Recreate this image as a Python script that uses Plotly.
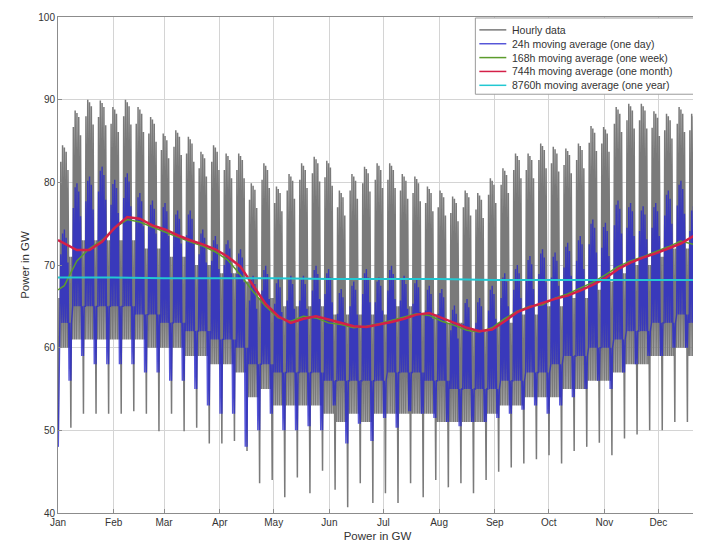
import plotly.graph_objects as go

# ---------------- data (GW) ----------------
months = ["Jan", "Feb", "Mar", "Apr", "May", "Jun", "Jul", "Aug", "Sep", "Oct", "Nov", "Dec"]
month_start_days = [0, 31, 59, 90, 120, 151, 181, 212, 243, 273, 304, 334]

# Jan 1 (holiday, Sunday): hourly low/high and 24h-average low/high
jan1_hourly = [50.0, 66.0]
jan1_daily = [48.0, 56.0]

# weekly readings (52 weeks, each Monday..Sunday, first Monday = Jan 2)
hourly_weekday_peak = [84.5, 88.7, 90.0, 89.9, 89.1, 90.0, 89.1, 87.9, 85.9, 86.3,
                       85.5, 83.7, 84.5, 83.5, 83.5, 79.9, 82.3, 79.5, 81.0, 82.3,
                       83.1, 82.6, 79.0, 81.0, 81.9, 82.3, 82.3, 81.0, 80.7, 79.5,
                       79.0, 78.3, 79.0, 78.7, 80.5, 81.7, 83.5, 83.5, 84.7, 84.3,
                       84.1, 84.7, 86.8, 86.7, 89.1, 89.5, 89.5, 88.6, 88.3, 89.1,
                       88.3, 84.0]
hourly_weekday_trough = [60, 61, 61, 61, 61, 61, 61, 60, 60, 60,
                         59, 59, 58, 58, 57, 54, 55, 53, 53, 53,
                         53, 52, 51, 52, 51, 52, 52, 52, 52, 52,
                         51, 51, 51, 51, 52, 53, 53, 54, 54, 54,
                         55, 55, 56, 56, 57, 58, 58, 59, 59, 60,
                         59, 56]
hourly_weekend_peak = [71, 73, 73, 73, 73, 73, 72, 72, 71, 71,
                       70, 70, 69, 69, 68, 66, 66, 65, 65, 65,
                       65, 64, 64, 64, 64, 64, 65, 65, 64, 64,
                       63, 63, 62, 62, 63, 63, 64, 64, 65, 65,
                       66, 66, 67, 68, 69, 70, 70, 71, 72, 72,
                       71, 68]
hourly_weekend_min = [50.3, 52.0, 52.0, 52.0, 52.0, 52.3, 52.0, 49.9, 52.0, 49.9,
                      50.3, 48.4, 48.4, 48.7, 47.5, 43.6, 44.0, 41.9, 44.3, 42.4,
                      45.1, 42.8, 40.7, 43.6, 41.2, 42.4, 41.2, 43.6, 41.9, 44.0,
                      43.1, 43.6, 42.4, 44.0, 45.0, 45.5, 46.0, 46.5, 47.0, 46.0,
                      47.5, 48.0, 48.5, 47.0, 49.0, 49.5, 50.0, 50.0, 51.0, 51.0,
                      50.0, 46.0]
# typical drop of each weekday's peak below the week's peak (Mon..Fri)
weekday_peak_drop = [2.0, 0.0, 0.3, 0.8, 3.0]

daily_weekday_peak = [74.3, 79.9, 80.7, 81.9, 80.3, 81.1, 78.7, 77.8, 77.5, 76.6,
                      76.6, 74.3, 73.5, 73.0, 71.9, 68.7, 69.9, 68.3, 68.7, 68.7,
                      69.9, 69.5, 67.1, 68.0, 69.5, 68.5, 69.9, 68.7, 68.3, 67.5,
                      67.1, 65.1, 65.9, 66.0, 67.5, 69.0, 70.0, 71.1, 71.9, 71.5,
                      72.7, 73.5, 75.5, 75.1, 77.8, 77.5, 77.1, 77.5, 79.0, 80.2,
                      77.1, 72.0]
daily_weekday_low = [63, 65, 65, 65, 65, 65, 64, 64, 63, 63,
                     62, 62, 61, 61, 60, 58, 58, 57, 57, 57,
                     57, 56, 56, 56, 56, 56, 57, 57, 57, 56,
                     56, 55, 55, 55, 55, 56, 56, 57, 57, 58,
                     59, 59, 60, 60, 61, 62, 62, 63, 63, 64,
                     63, 59]
daily_weekend_min = [56, 59, 58, 58, 58, 58, 57, 57, 56, 56,
                     55, 53, 52, 52, 48, 50, 52, 50, 50, 50.5,
                     50, 53, 48.4, 50.8, 48.7, 51.5, 50.3, 52.3, 52, 51.5,
                     51, 50.5, 51, 51, 51.5, 52, 52.5, 53, 52, 53,
                     54, 55, 56, 55, 57, 58, 59, 59, 60, 60,
                     58, 52]
daily_peak_drop = [3.0, 0.5, 0.0, 1.0, 4.0]

# 168h and 744h averages: Jan 1 value, then one reading per week (mid-week)
weekly_avg = [67.0, 67.5, 70.5, 72.0, 73.0, 74.5, 75.5, 75.2, 74.6, 74.0, 73.4,
              72.8, 72.3, 71.6, 70.6, 68.8, 66.8, 65.0, 63.6, 63.2, 63.8,
              63.6, 63.0, 62.8, 62.4, 62.6, 62.9, 63.3, 63.7, 64.1, 63.9,
              63.2, 62.7, 62.1, 61.9, 62.4, 63.5, 64.4, 65.0, 65.2, 66.0,
              66.5, 67.2, 67.9, 68.8, 69.8, 70.5, 71.0, 71.6, 72.2, 72.9,
              72.5, 71.0]
monthly_avg = [73.0, 72.6, 71.8, 71.8, 72.8, 74.5, 75.8, 75.6, 74.8, 74.3, 73.6,
               73.0, 72.5, 71.9, 71.0, 69.8, 67.5, 65.3, 63.8, 63.0, 63.5,
               63.8, 63.4, 63.0, 62.6, 62.5, 62.8, 63.1, 63.5, 64.0, 64.2,
               63.6, 63.0, 62.4, 62.0, 62.2, 63.2, 64.3, 64.9, 65.4, 65.9,
               66.3, 66.9, 67.6, 68.4, 69.5, 70.3, 70.9, 71.4, 72.0, 72.6,
               73.5, 74.0]
# 8760h average, read at each month start and year end
yearly_avg = [68.5, 68.5, 68.4, 68.4, 68.4, 68.3, 68.3, 68.3, 68.2, 68.2, 68.2, 68.2, 68.2]

legend_names = ["Hourly data", "24h moving average (one day)", "168h moving average (one week)",
                "744h moving average (one month)", "8760h moving average (one year)"]
colors = ["#7a7a7a", "rgba(38,38,205,0.78)", "#5c9c2c", "#d42048", "#22c8d2"]

# ---------------- build series from readings ----------------
def expand(first, wd_lo, wd_hi, we_lo, we_hi, peak_drop, sat_lo_is_weekend):
    xs = [0 + 4 / 24, 0 + 13 / 24]
    ys = [first[0], first[1]]
    for k in range(len(wd_hi)):
        for j in range(7):
            d = 1 + 7 * k + j
            if d >= 365:
                break
            if j < 5:
                lo, hi = wd_lo[k], wd_hi[k] - peak_drop[j]
            elif j == 5:
                lo = we_lo[k] if sat_lo_is_weekend else wd_lo[k]
                hi = we_hi[k]
            else:
                lo, hi = we_lo[k], we_hi[k]
            xs += [d + 4 / 24, d + 13 / 24]
            ys += [lo, hi]
    return xs, ys

hx, hy = expand(jan1_hourly, hourly_weekday_trough, hourly_weekday_peak,
                hourly_weekend_min, hourly_weekend_peak, weekday_peak_drop, False)
dx, dy = expand(jan1_daily, daily_weekday_low, daily_weekday_peak,
                daily_weekend_min, daily_weekday_low, daily_peak_drop, True)
avg_days = [0] + [7 * k + 3.5 for k in range(52)]
year_days = month_start_days + [365]

fig = go.Figure()
fig.add_trace(go.Scatter(x=hx, y=hy, mode="lines", name=legend_names[0],
                         line=dict(color=colors[0], width=1.5)))
fig.add_trace(go.Scatter(x=dx, y=dy, mode="lines", name=legend_names[1],
                         line=dict(color=colors[1], width=1.4)))
fig.add_trace(go.Scatter(x=avg_days, y=weekly_avg, mode="lines", name=legend_names[2],
                         line=dict(color=colors[2], width=1.5)))
fig.add_trace(go.Scatter(x=avg_days, y=monthly_avg, mode="lines", name=legend_names[3],
                         line=dict(color=colors[3], width=2.5)))
fig.add_trace(go.Scatter(x=year_days, y=yearly_avg, mode="lines", name=legend_names[4],
                         line=dict(color=colors[4], width=2)))

# ---------------- layout ----------------
# page has an 8px body margin; figure sized to fill the 701x547 window
W, H = 693, 539
ML, MR, MT, MB = 50, 3, 4, 34
PW, PH = W - ML - MR, H - MT - MB

def px(xp):   # figure pixel -> paper x
    return (xp - ML) / PW

def py(yp):   # figure pixel -> paper y
    return 1 - (yp - MT) / PH

axis_common = dict(showgrid=True, gridcolor="#d4d4d4", gridwidth=1, showline=True,
                   linecolor="#8c8c8c", linewidth=1, mirror=True, ticks="inside",
                   ticklen=4, tickcolor="#8c8c8c", zeroline=False,
                   ticklabeloverflow="allow",
                   tickfont=dict(size=10, color="#333333"))

# compact legend (box, sample lines, labels)
shapes = [dict(type="rect", xref="paper", yref="paper",
               x0=px(468), x1=px(690), y0=py(82), y1=py(5),
               line=dict(color="#9a9a9a", width=1), fillcolor="white", layer="above")]
annotations = []
row_y = [17, 31, 45, 59, 73]
for i, name in enumerate(legend_names):
    shapes.append(dict(type="line", xref="paper", yref="paper",
                       x0=px(472), x1=px(499), y0=py(row_y[i]), y1=py(row_y[i]),
                       line=dict(color=colors[i], width=1.5), layer="above"))
    annotations.append(dict(xref="paper", yref="paper", x=px(503), y=py(row_y[i]),
                            text=name, showarrow=False, xanchor="left", yanchor="middle",
                            font=dict(size=10.5, color="#333333")))

fig.update_layout(
    width=W, height=H,
    margin=dict(l=ML, r=MR, t=MT, b=MB),
    plot_bgcolor="white", paper_bgcolor="white",
    font=dict(family="Liberation Sans, Arial, sans-serif", size=10, color="#333333"),
    xaxis=dict(range=[0, 355.5], tickmode="array", tickvals=month_start_days, ticktext=months,
               title=dict(text="Power in GW", font=dict(size=11.5), standoff=4), **axis_common),
    yaxis=dict(range=[40, 100], tickmode="linear", tick0=40, dtick=10,
               title=dict(text="Power in GW", font=dict(size=11.5), standoff=6), **axis_common),
    shapes=shapes,
    annotations=annotations,
    showlegend=False,
)

fig.write_html("out.html")
